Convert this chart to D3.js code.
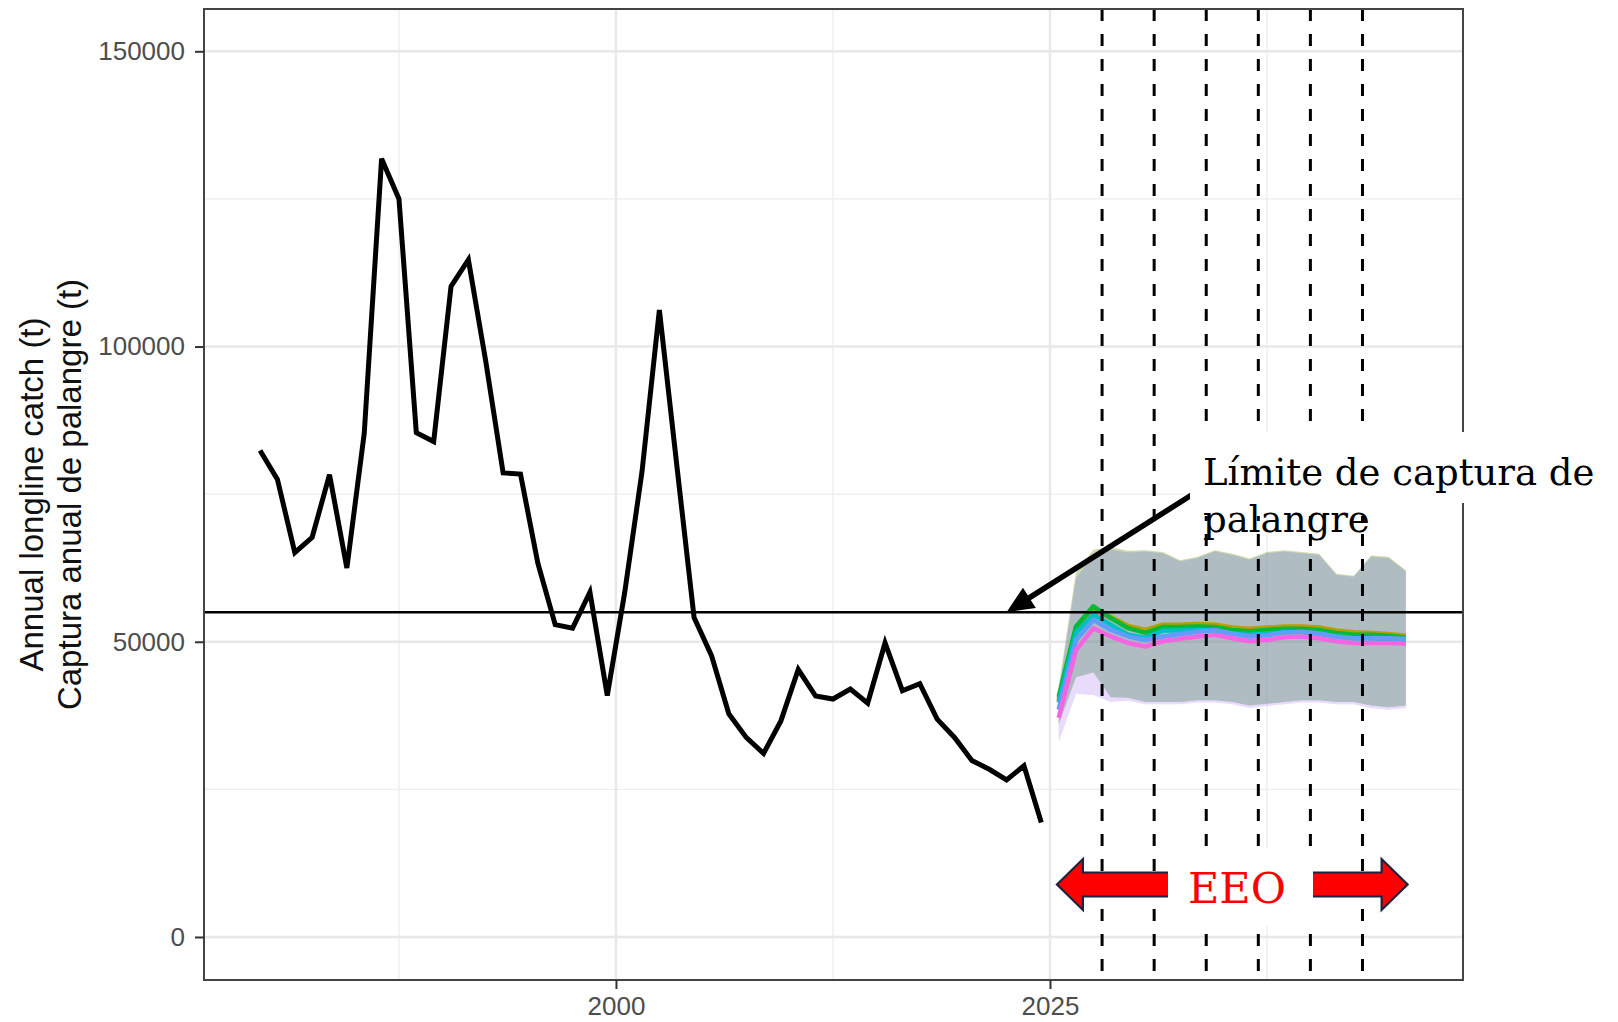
<!DOCTYPE html>
<html>
<head>
<meta charset="utf-8">
<script src="https://cdn.jsdelivr.net/npm/d3@7"></script>
<style>
  body { margin: 0; background: #fff; }
  svg { display: block; }
</style>
</head>
<body>
<div id="chart"></div>
<script>
// historical longline catch (t), one value per year
var histYears = [1979, 1980, 1981, 1982, 1983, 1984, 1985, 1986, 1987, 1988,
                 1989, 1990, 1991, 1992, 1993, 1994, 1995, 1996, 1997, 1998,
                 1999, 2000, 2001, 2002, 2003, 2004, 2005, 2006, 2007, 2008,
                 2009, 2010, 2011, 2012, 2013, 2014, 2015, 2016, 2017, 2018,
                 2019, 2020, 2021, 2022, 2023, 2024];
var histCatch = [82400, 77500, 65100, 67700, 78300, 62500, 85300, 131800, 125000, 85400,
                 83900, 110200, 114700, 97500, 78600, 78400, 63300, 52900, 52300, 58400,
                 40900, 58300, 78800, 106200, 80000, 54100, 47700, 37800, 33800, 31100,
                 36600, 45300, 40800, 40300, 42000, 39600, 49800, 41700, 42900, 36900,
                 33800, 29900, 28400, 26600, 29000, 19400];

// projected catch, one line per scenario
var projYears = [2025, 2026, 2027, 2028, 2029, 2030, 2031, 2032, 2033, 2034,
                 2035, 2036, 2037, 2038, 2039, 2040, 2041, 2042, 2043, 2044, 2045];
var projRed   = [40000, 52000, 55400, 54000, 52600, 51900, 52800, 52800, 52900, 52800, 52300, 52100, 52300, 52500, 52500, 52300, 51800, 51500, 51400, 51200, 50900];
var projOlive = [40300, 52300, 55700, 54200, 52700, 52000, 52900, 52900, 53000, 52900, 52400, 52200, 52400, 52600, 52600, 52400, 51900, 51600, 51500, 51300, 51000];
var projGreen = [40700, 52600, 56000, 54000, 52300, 51500, 52500, 52500, 52600, 52500, 52000, 51800, 52000, 52200, 52200, 52000, 51500, 51200, 51200, 51000, 50700];
var projCyan  = [39700, 51500, 54600, 52900, 51200, 50700, 51900, 51900, 52000, 51900, 51400, 51200, 51400, 51600, 51600, 51400, 50900, 50600, 50600, 50400, 50300];
var projBlue  = [38500, 50300, 53700, 52000, 50900, 50300, 50900, 51300, 51700, 52000, 51400, 50900, 51100, 51600, 51700, 51400, 50900, 50600, 50600, 50600, 50500];
var projPink  = [37100, 48600, 52300, 50900, 49800, 49200, 50100, 50500, 50900, 51200, 50600, 50100, 50300, 50800, 50900, 50600, 50100, 49800, 49800, 49800, 49700];

// uncertainty bands (A = first three scenarios, B = the rest)
var bandUpperA = [42500, 61800, 65600, 66000, 65400, 65500, 65200, 63800, 64400, 65500, 64900, 64100, 65200, 65500, 65200, 64900, 61500, 61200, 64600, 64400, 62100];
var bandUpperB = [41500, 60800, 64700, 65600, 65100, 65300, 65000, 63600, 64200, 65300, 64700, 63900, 65000, 65300, 65000, 64700, 61300, 61000, 64400, 64200, 61900];
var bandLowerA = [36000, 44000, 44800, 40600, 40500, 39800, 39800, 39800, 40100, 40100, 39800, 39200, 39500, 39800, 40100, 40100, 39800, 39800, 39200, 38900, 39200];
var bandLowerB = [33000, 41200, 41000, 39800, 40000, 39400, 39400, 39400, 39700, 39700, 39400, 38800, 39100, 39400, 39700, 39700, 39400, 39400, 38800, 38500, 38800];

var scenarioColors = ["#F8766D", "#B79F00", "#00BA38", "#00BFC4", "#619CFF", "#F564E3"];
var catchLimit = 55000;
var checkYears = [2028, 2031, 2034, 2037, 2040, 2043];
var yTicks = [0, 50000, 100000, 150000];
var yMinor = [25000, 75000, 125000];
var xTicks = [2000, 2025];
var xMinor = [1987.5, 2012.5, 2037.5];

var W = 1618, H = 1022;
var panel = {left: 204, top: 9, right: 1463, bottom: 980},
    pw = panel.right - panel.left,
    ph = panel.bottom - panel.top;

var svg = d3.select("#chart")
  .append("svg")
    .attr("width", W)
    .attr("height", H);

svg.append("rect").attr("width", W).attr("height", H).attr("fill", "#fff");

var g = svg.append("g")
    .attr("transform", "translate(" + panel.left + "," + panel.top + ")");

var x = d3.scaleLinear().domain([1976.27, 2048.79]).range([0, pw]);
var y = d3.scaleLinear().domain([-7285, 157166]).range([ph, 0]);

// catches are plotted at mid-year
function xm(yr) { return x(yr + 0.5); }

// grid lines
g.selectAll(".ygridMinor").data(yMinor).enter().append("line")
  .attr("x1", 0).attr("x2", pw)
  .attr("y1", function(d) { return y(d); }).attr("y2", function(d) { return y(d); })
  .attr("stroke", "#ededed").attr("stroke-width", 1.3);
g.selectAll(".xgridMinor").data(xMinor).enter().append("line")
  .attr("y1", 0).attr("y2", ph)
  .attr("x1", function(d) { return x(d); }).attr("x2", function(d) { return x(d); })
  .attr("stroke", "#ededed").attr("stroke-width", 1.3);
g.selectAll(".ygrid").data(yTicks).enter().append("line")
  .attr("x1", 0).attr("x2", pw)
  .attr("y1", function(d) { return y(d); }).attr("y2", function(d) { return y(d); })
  .attr("stroke", "#e8e8e8").attr("stroke-width", 2.4);
g.selectAll(".xgrid").data(xTicks).enter().append("line")
  .attr("y1", 0).attr("y2", ph)
  .attr("x1", function(d) { return x(d); }).attr("x2", function(d) { return x(d); })
  .attr("stroke", "#e8e8e8").attr("stroke-width", 2.4);

// projection ribbons
var series = [projRed, projOlive, projGreen, projCyan, projBlue, projPink];
series.forEach(function(s, i) {
  var up = i < 3 ? bandUpperA : bandUpperB;
  var lo = i >= 4 ? bandLowerB : bandLowerA;
  var area = d3.area()
    .x(function(d, j) { return xm(projYears[j]); })
    .y0(function(d, j) { return y(lo[j]); })
    .y1(function(d, j) { return y(up[j]); });
  g.append("path")
    .datum(projYears)
    .attr("d", area)
    .attr("fill", scenarioColors[i])
    .attr("fill-opacity", 0.15);
});

// projection lines
var projLine = d3.line()
  .x(function(d, j) { return xm(projYears[j]); })
  .y(function(d) { return y(d); });
series.forEach(function(s, i) {
  g.append("path")
    .datum(s)
    .attr("d", projLine)
    .attr("fill", "none")
    .attr("stroke", scenarioColors[i])
    .attr("stroke-width", 4.5)
    .attr("stroke-linejoin", "round");
});

// historical catch
var histLine = d3.line()
  .x(function(d, j) { return xm(histYears[j]); })
  .y(function(d) { return y(d); });
g.append("path")
  .datum(histCatch)
  .attr("d", histLine)
  .attr("fill", "none")
  .attr("stroke", "#000")
  .attr("stroke-width", 5)
  .attr("stroke-linejoin", "miter");

// catch limit
g.append("line")
  .attr("x1", 0).attr("x2", pw)
  .attr("y1", y(catchLimit)).attr("y2", y(catchLimit))
  .attr("stroke", "#000").attr("stroke-width", 2.6);

// dashed years
g.selectAll(".vdash").data(checkYears).enter().append("line")
  .attr("x1", function(d) { return x(d); }).attr("x2", function(d) { return x(d); })
  .attr("y1", 0).attr("y2", ph)
  .attr("stroke", "#000").attr("stroke-width", 3)
  .attr("stroke-dasharray", "12,13");

// panel border
g.append("rect")
  .attr("width", pw).attr("height", ph)
  .attr("fill", "none").attr("stroke", "#444").attr("stroke-width", 2);

// axes
var yAxis = d3.axisLeft(y).tickValues(yTicks).tickSize(9).tickPadding(10).tickFormat(d3.format("d"));
var xAxis = d3.axisBottom(x).tickValues(xTicks).tickSize(9).tickPadding(8).tickFormat(d3.format("d"));

var ya = g.append("g").call(yAxis);
var xa = g.append("g").attr("transform", "translate(0," + ph + ")").call(xAxis);
[ya, xa].forEach(function(a) {
  a.select(".domain").remove();
  a.selectAll("line").attr("stroke", "#333").attr("stroke-width", 2);
  a.selectAll("text")
    .attr("fill", "#4d4d4d")
    .attr("font-family", "'Liberation Sans', Arial, sans-serif")
    .attr("font-size", "26px");
});

// y title
var titleY = panel.top + ph / 2;
svg.append("text")
  .attr("transform", "translate(43," + titleY + ") rotate(-90)")
  .attr("text-anchor", "middle")
  .attr("font-family", "'Liberation Sans', Arial, sans-serif")
  .attr("font-size", "33px")
  .attr("fill", "#111")
  .text("Annual longline catch (t)");
svg.append("text")
  .attr("transform", "translate(81," + titleY + ") rotate(-90)")
  .attr("text-anchor", "middle")
  .attr("font-family", "'Liberation Sans', Arial, sans-serif")
  .attr("font-size", "33px")
  .attr("fill", "#111")
  .text("Captura anual de palangre (t)");

// annotation: limit label + arrow
var tipX = panel.left + x(2022.5), tipY = panel.top + y(catchLimit);
var tailX = 1201, tailY = 489;
var dx = tipX - tailX, dy = tipY - tailY, len = Math.sqrt(dx * dx + dy * dy);
var ux = dx / len, uy = dy / len, headL = 27, headW = 12;
var bx = tipX - ux * headL, by = tipY - uy * headL;
svg.append("line")
  .attr("x1", tailX).attr("y1", tailY)
  .attr("x2", bx + ux * 4).attr("y2", by + uy * 4)
  .attr("stroke", "#000").attr("stroke-width", 5.5);
svg.append("polygon")
  .attr("points", [[tipX, tipY], [bx - uy * headW, by + ux * headW], [bx + uy * headW, by - ux * headW]]
    .map(function(p) { return p.join(","); }).join(" "))
  .attr("fill", "#000");

svg.append("rect").attr("x", 1190).attr("y", 432).attr("width", 415).attr("height", 71).attr("fill", "#fff");
svg.append("rect").attr("x", 1190).attr("y", 503).attr("width", 188).attr("height", 13).attr("fill", "#fff");
var note = svg.append("text")
  .attr("font-family", "'DejaVu Serif', Georgia, serif")
  .attr("font-size", "37px")
  .attr("fill", "#000");
note.append("tspan").attr("x", 1203).attr("y", 485).text("Límite de captura de");
note.append("tspan").attr("x", 1203).attr("y", 532).text("palangre");

// EEO double arrow
var L = panel.left + x(2025.4), R = panel.left + x(2045.6), cy = 884.5;
var hl = 26, hh = 25.5, sh = 12;
var arrowPts = [[L, cy], [L + hl, cy - hh], [L + hl, cy - sh], [R - hl, cy - sh], [R - hl, cy - hh],
                [R, cy], [R - hl, cy + hh], [R - hl, cy + sh], [L + hl, cy + sh], [L + hl, cy + hh]];
svg.append("polygon")
  .attr("points", arrowPts.map(function(p) { return p.join(","); }).join(" "))
  .attr("fill", "#ff0000")
  .attr("stroke", "#1c2340")
  .attr("stroke-width", 2.2)
  .attr("stroke-linejoin", "miter");
svg.append("rect").attr("x", 1168).attr("y", 848).attr("width", 145).attr("height", 78).attr("fill", "#fff");
svg.append("text")
  .attr("x", 1237).attr("y", 903)
  .attr("text-anchor", "middle")
  .attr("font-family", "'DejaVu Serif', Georgia, serif")
  .attr("font-size", "43px")
  .attr("fill", "#ff0000")
  .text("EEO");
</script>
</body>
</html>
